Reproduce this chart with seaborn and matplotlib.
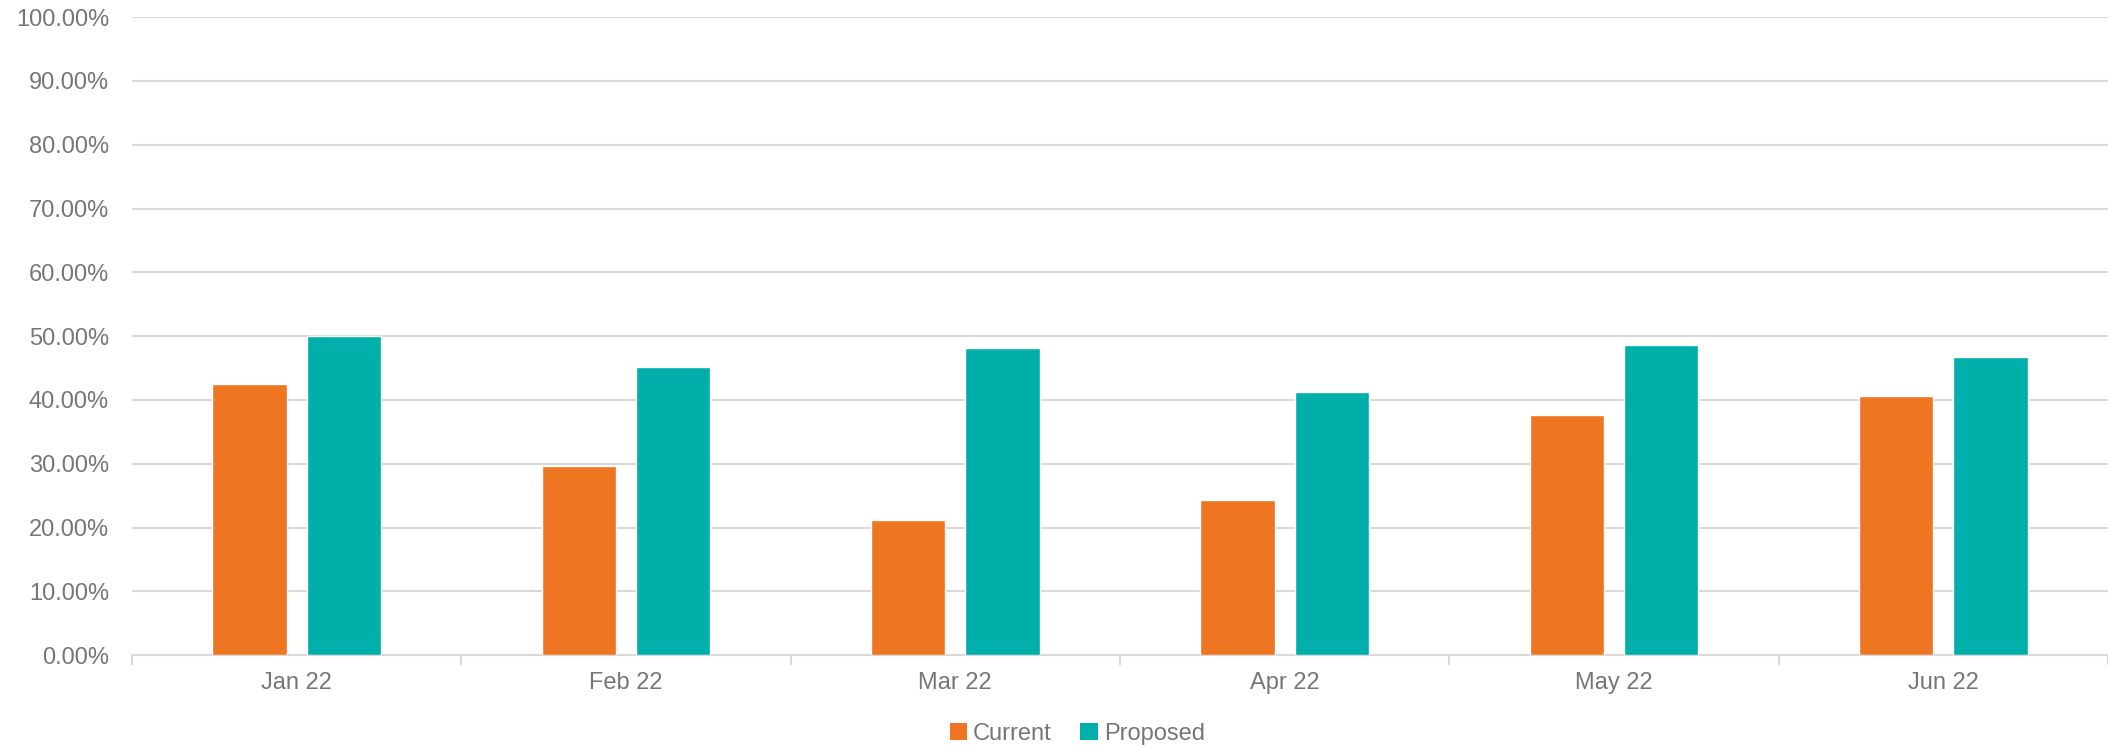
import matplotlib
matplotlib.use("Agg")
import matplotlib.pyplot as plt
from matplotlib.ticker import FuncFormatter, FixedLocator
from matplotlib.patches import Patch
import seaborn as sns
import pandas as pd

months = ["Jan 22", "Feb 22", "Mar 22", "Apr 22", "May 22", "Jun 22"]
current = [0.425, 0.296, 0.212, 0.243, 0.376, 0.406]
proposed = [0.500, 0.452, 0.482, 0.413, 0.486, 0.467]
series = ["Current", "Proposed"]
colors = {"Current": "#EE7623", "Proposed": "#00AFAA"}

df = pd.DataFrame({
    "month": months * 2,
    "value": current + proposed,
    "series": [series[0]] * len(months) + [series[1]] * len(months),
})

sns.set_theme(style="white")
plt.rcParams["font.family"] = ["Liberation Sans", "DejaVu Sans"]

text_color = "#767676"
grid_color = "#D9D9D9"
font_size = 17

fig = plt.figure(figsize=(21.08, 7.47), dpi=100)
ax = fig.add_axes([0.0626, 0.123, 0.9374, 0.854])

sns.barplot(data=df, x="month", y="value", hue="series", order=months,
            hue_order=series, palette=colors, width=0.572, gap=0.21,
            saturation=1, legend=False, ax=ax, errorbar=None, zorder=3)

ax.set_ylim(0, 1.0)
ax.set_xlim(-0.5, len(months) - 0.5)
ax.set_yticks([i / 10 for i in range(11)])
ax.yaxis.set_major_formatter(FuncFormatter(lambda v, _: f"{v * 100:.2f}%"))
ax.grid(axis="y", color=grid_color, linewidth=1.5, zorder=0)
ax.set_axisbelow(True)

for side in ["top", "right", "left"]:
    ax.spines[side].set_visible(False)
ax.spines["bottom"].set_color(grid_color)
ax.spines["bottom"].set_linewidth(1.5)

ax.xaxis.set_minor_locator(FixedLocator([i - 0.5 for i in range(len(months) + 1)]))
ax.tick_params(axis="x", which="major", length=0, pad=12, labelsize=font_size, labelcolor=text_color)
ax.tick_params(axis="x", which="minor", length=7, width=1.5, color=grid_color, bottom=True)
ax.tick_params(axis="y", length=0, pad=16.5, labelsize=font_size, labelcolor=text_color)
ax.set_xlabel("")
ax.set_ylabel("")

handles = [Patch(facecolor=colors[s], edgecolor="none", label=s) for s in series]
fig.legend(handles=handles, loc="center", bbox_to_anchor=(0.511, 0.018), ncol=2,
           frameon=False, fontsize=font_size, labelcolor=text_color,
           handlelength=0.75, handleheight=0.75, handletextpad=0.25, columnspacing=1.2)

fig.savefig("out.png", dpi=100, facecolor="white")
